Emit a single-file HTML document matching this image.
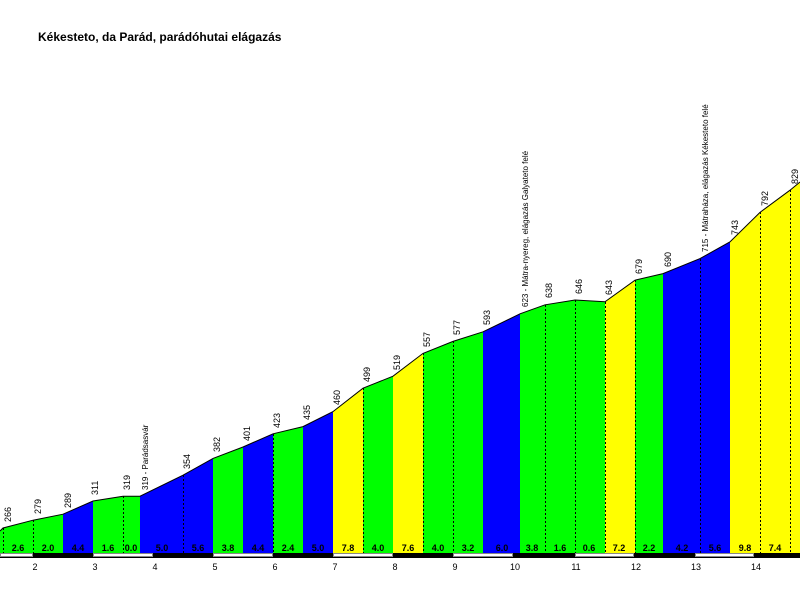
<!DOCTYPE html>
<html><head><meta charset="utf-8"><style>
html,body{margin:0;padding:0;background:#fff;}
svg{display:block;font-family:"Liberation Sans",sans-serif;}
.g{font-size:9px;font-weight:bold;text-anchor:middle;fill:#000;}
.e{font-size:9px;fill:#000;}
.a{font-size:8px;}
.k{font-size:9px;text-anchor:middle;fill:#000;}
</style></head><body>
<svg width="800" height="600" viewBox="0 0 800 600">
<rect width="800" height="600" fill="#fff"/>
<text x="38" y="41" font-size="12" font-weight="bold">Kékesteto, da Parád, parádóhutai elágazás</text>
<g stroke="none">
<polygon fill="#00ff00" points="0,553 0,531 3,528 3,553"/>
<polygon fill="#00ff00" points="3,553 3,528 33,520.2 33,553"/>
<polygon fill="#00ff00" points="33,553 33,520.2 63,514.2 63,553"/>
<polygon fill="#0000ff" points="63,553 63,514.2 93,501 93,553"/>
<polygon fill="#00ff00" points="93,553 93,501 123,496.2 123,553"/>
<polygon fill="#00ff00" points="123,553 123,496.2 140,496.2 140,553"/>
<polygon fill="#0000ff" points="140,553 140,496.2 183,475.2 183,553"/>
<polygon fill="#0000ff" points="183,553 183,475.2 213,458.4 213,553"/>
<polygon fill="#00ff00" points="213,553 213,458.4 243,447 243,553"/>
<polygon fill="#0000ff" points="243,553 243,447 273,433.8 273,553"/>
<polygon fill="#00ff00" points="273,553 273,433.8 303,426.6 303,553"/>
<polygon fill="#0000ff" points="303,553 303,426.6 333,411.6 333,553"/>
<polygon fill="#ffff00" points="333,553 333,411.6 363,388.2 363,553"/>
<polygon fill="#00ff00" points="363,553 363,388.2 393,376.2 393,553"/>
<polygon fill="#ffff00" points="393,553 393,376.2 423,353.4 423,553"/>
<polygon fill="#00ff00" points="423,553 423,353.4 453,341.4 453,553"/>
<polygon fill="#00ff00" points="453,553 453,341.4 483,331.8 483,553"/>
<polygon fill="#0000ff" points="483,553 483,331.8 520,313.8 520,553"/>
<polygon fill="#00ff00" points="520,553 520,313.8 545,304.8 545,553"/>
<polygon fill="#00ff00" points="545,553 545,304.8 575,300 575,553"/>
<polygon fill="#00ff00" points="575,553 575,300 605,301.8 605,553"/>
<polygon fill="#ffff00" points="605,553 605,301.8 635,280.2 635,553"/>
<polygon fill="#00ff00" points="635,553 635,280.2 663,273.6 663,553"/>
<polygon fill="#0000ff" points="663,553 663,273.6 700,258.6 700,553"/>
<polygon fill="#0000ff" points="700,553 700,258.6 730,241.8 730,553"/>
<polygon fill="#ffff00" points="730,553 730,241.8 760,212.4 760,553"/>
<polygon fill="#ffff00" points="760,553 760,212.4 790,190.2 790,553"/>
<polygon fill="#ffff00" points="790,553 790,190.2 800,182 800,553"/>
</g>
<polyline fill="none" stroke="#000" stroke-width="1" points="0,531 3,528 33,520.2 63,514.2 93,501 123,496.2 140,496.2 183,475.2 213,458.4 243,447 273,433.8 303,426.6 333,411.6 363,388.2 393,376.2 423,353.4 453,341.4 483,331.8 520,313.8 545,304.8 575,300 605,301.8 635,280.2 663,273.6 700,258.6 730,241.8 760,212.4 790,190.2 800,182"/>
<g stroke="#000" stroke-width="1" stroke-dasharray="2,2">
<line x1="3.5" y1="528" x2="3.5" y2="553"/>
<line x1="33.5" y1="520" x2="33.5" y2="553"/>
<line x1="123.5" y1="496" x2="123.5" y2="553"/>
<line x1="183.5" y1="475" x2="183.5" y2="553"/>
<line x1="273.5" y1="434" x2="273.5" y2="553"/>
<line x1="363.5" y1="388" x2="363.5" y2="553"/>
<line x1="423.5" y1="353" x2="423.5" y2="553"/>
<line x1="453.5" y1="341" x2="453.5" y2="553"/>
<line x1="545.5" y1="305" x2="545.5" y2="553"/>
<line x1="575.5" y1="300" x2="575.5" y2="553"/>
<line x1="605.5" y1="302" x2="605.5" y2="553"/>
<line x1="635.5" y1="280" x2="635.5" y2="553"/>
<line x1="700.5" y1="259" x2="700.5" y2="553"/>
<line x1="760.5" y1="212" x2="760.5" y2="553"/>
<line x1="790.5" y1="190" x2="790.5" y2="553"/>
</g>
<g class="g">
<text x="18" y="551">2.6</text><text x="48" y="551">2.0</text><text x="78" y="551">4.4</text>
<text x="108" y="551">1.6</text><text x="131" y="551">0.0</text><text x="162" y="551">5.0</text>
<text x="198" y="551">5.6</text><text x="228" y="551">3.8</text><text x="258" y="551">4.4</text>
<text x="288" y="551">2.4</text><text x="318" y="551">5.0</text><text x="348" y="551">7.8</text>
<text x="378" y="551">4.0</text><text x="408" y="551">7.6</text><text x="438" y="551">4.0</text>
<text x="468" y="551">3.2</text><text x="502" y="551">6.0</text><text x="532" y="551">3.8</text>
<text x="560" y="551">1.6</text><text x="589" y="551">0.6</text><text x="619" y="551">7.2</text>
<text x="649" y="551">2.2</text><text x="682" y="551">4.2</text><text x="715" y="551">5.6</text>
<text x="745" y="551">9.8</text><text x="775" y="551">7.4</text>
</g>
<rect x="0" y="553" width="800" height="5" fill="#000"/>
<g fill="#fff" stroke="#888" stroke-width="1">
<rect x="0.5" y="553.5" width="32" height="3"/>
<rect x="93.5" y="553.5" width="59" height="3"/>
<rect x="213.5" y="553.5" width="59" height="3"/>
<rect x="333.5" y="553.5" width="59" height="3"/>
<rect x="453.5" y="553.5" width="59" height="3"/>
<rect x="575.5" y="553.5" width="58" height="3"/>
<rect x="695.5" y="553.5" width="58" height="3"/>
</g>
<g class="k">
<text x="35" y="570">2</text><text x="95" y="570">3</text><text x="155" y="570">4</text>
<text x="215" y="570">5</text><text x="275" y="570">6</text><text x="335" y="570">7</text>
<text x="395" y="570">8</text><text x="455" y="570">9</text><text x="515" y="570">10</text>
<text x="576" y="570">11</text><text x="636" y="570">12</text><text x="696" y="570">13</text>
<text x="756" y="570">14</text>
</g>
<g class="e">
<text transform="translate(11,522) rotate(-90)">266</text>
<text transform="translate(41,514) rotate(-90)">279</text>
<text transform="translate(71,508) rotate(-90)">289</text>
<text transform="translate(98,495) rotate(-90)">311</text>
<text transform="translate(130,490) rotate(-90)">319</text>
<text class="a" transform="translate(148,490) rotate(-90)">319 - Parádsasvár</text>
<text transform="translate(190,469) rotate(-90)">354</text>
<text transform="translate(220,452) rotate(-90)">382</text>
<text transform="translate(250,441) rotate(-90)">401</text>
<text transform="translate(280,428) rotate(-90)">423</text>
<text transform="translate(310,420) rotate(-90)">435</text>
<text transform="translate(340,405) rotate(-90)">460</text>
<text transform="translate(370,382) rotate(-90)">499</text>
<text transform="translate(400,370) rotate(-90)">519</text>
<text transform="translate(430,347) rotate(-90)">557</text>
<text transform="translate(460,335) rotate(-90)">577</text>
<text transform="translate(490,325) rotate(-90)">593</text>
<text class="a" transform="translate(528,307) rotate(-90)">623 - Mátra-nyereg, elágazás Galyateto felé</text>
<text transform="translate(552,298) rotate(-90)">638</text>
<text transform="translate(582,294) rotate(-90)">646</text>
<text transform="translate(612,295) rotate(-90)">643</text>
<text transform="translate(642,274) rotate(-90)">679</text>
<text transform="translate(671,267) rotate(-90)">690</text>
<text class="a" transform="translate(708,252) rotate(-90)">715 - Mátraháza, elágazás Kékesteto felé</text>
<text transform="translate(738,235) rotate(-90)">743</text>
<text transform="translate(768,206) rotate(-90)">792</text>
<text transform="translate(798,184) rotate(-90)">829</text>
</g>
</svg>
</body></html>
